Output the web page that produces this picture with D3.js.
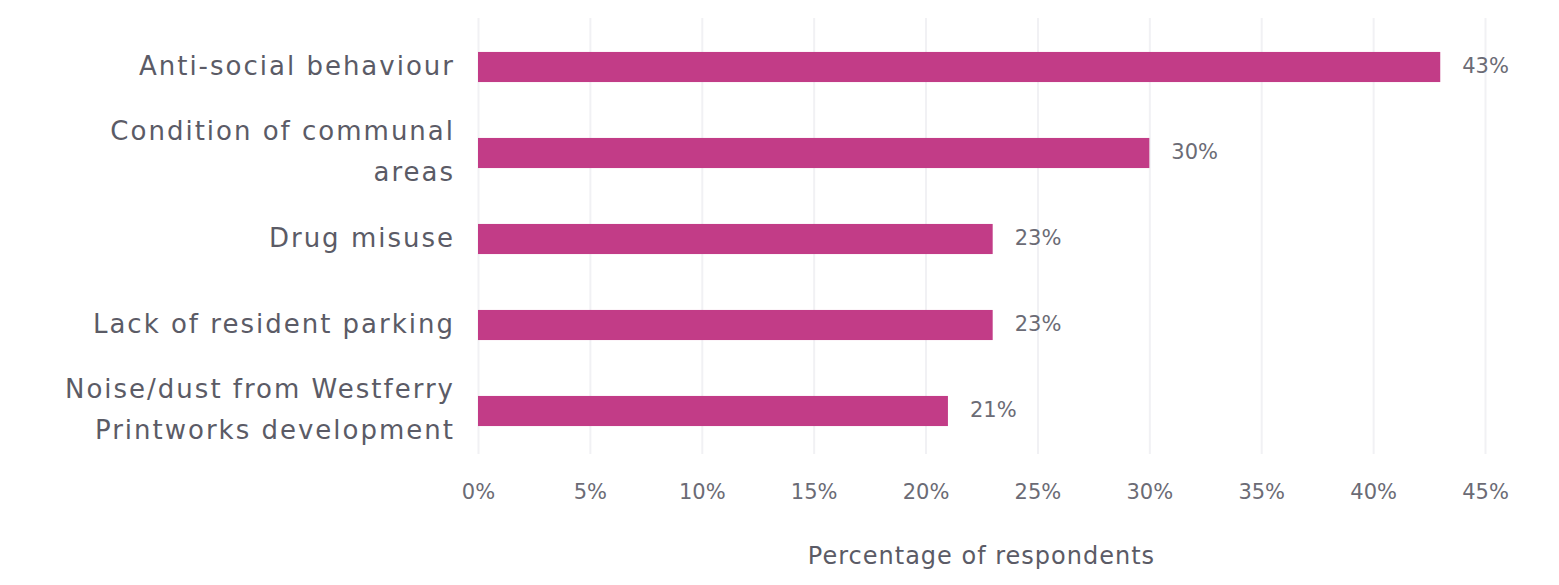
<!DOCTYPE html>
<html>
<head>
<meta charset="utf-8">
<script src="https://cdn.jsdelivr.net/npm/d3@7/dist/d3.min.js"></script>
<style>
    html, body { margin: 0; padding: 0; background: #ffffff; }
    svg { display: block; font-family: "DejaVu Sans", "Open Sans", sans-serif; }
    .catLabel { fill: #5b5b66; font-size: 26px; letter-spacing: 2px; }
    .valLabel { fill: #6b6b75; font-size: 21px; }
    .xAxis text { fill: #6b6b75; font-size: 21px; }
    .axisTitle { fill: #5b5b66; font-size: 24px; letter-spacing: 1px; }
</style>
</head>
<body>
<script>
var categories = [
    "Anti-social behaviour",
    "Condition of communal areas",
    "Drug misuse",
    "Lack of resident parking",
    "Noise/dust from Westferry Printworks development"
];
var values = [43, 30, 23, 23, 21];
var tickValues = [0, 5, 10, 15, 20, 25, 30, 35, 40, 45];
var axisTitle = "Percentage of respondents";

var width = 1559,
    height = 585,
    margin = { top: 24, right: 74, bottom: 131, left: 478 },
    labelWrap = 410;

var svg = d3.select("body").append("svg")
    .attr("width", width)
    .attr("height", height)
    ;

var x = d3.scaleLinear()
    .domain([0, 45])
    .range([margin.left, width - margin.right])
    ;
var y = d3.scaleBand()
    .domain(categories)
    .range([margin.top, height - margin.bottom])
    .paddingInner(0.65)
    .paddingOuter(0.325)
    ;

//  Grid ---
svg.append("g")
    .attr("class", "grid")
    .attr("transform", "translate(0," + (height - margin.bottom) + ")")
    .call(d3.axisBottom(x).tickValues(tickValues).tickSize(-(height - margin.bottom - 18)).tickFormat(""))
    .call(function (g) {
        g.select(".domain").remove();
        g.selectAll("line").attr("stroke", "#f1f1f4").attr("stroke-width", 2);
    })
    ;

//  X Axis ---
svg.append("g")
    .attr("class", "xAxis")
    .attr("transform", "translate(0," + (height - margin.bottom) + ")")
    .call(d3.axisBottom(x).tickValues(tickValues).tickSize(0).tickPadding(30).tickFormat(function (d) { return d + "%"; }))
    .call(function (g) {
        g.select(".domain").remove();
    })
    ;
svg.select(".xAxis").attr("font-family", null).attr("font-size", null);

svg.append("text")
    .attr("class", "axisTitle")
    .attr("x", (x.range()[0] + x.range()[1]) / 2)
    .attr("y", 557)
    .attr("text-anchor", "middle")
    .attr("dominant-baseline", "middle")
    .text(axisTitle)
    ;

//  Bars ---
var rows = categories.map(function (c, i) { return { cat: c, value: values[i] }; });

svg.append("g").selectAll("rect")
    .data(rows)
    .enter().append("rect")
    .attr("x", x(0))
    .attr("y", function (d) { return y(d.cat); })
    .attr("width", function (d) { return x(d.value) - x(0); })
    .attr("height", y.bandwidth())
    .attr("fill", "#c23c87")
    ;

svg.append("g").selectAll("text")
    .data(rows)
    .enter().append("text")
    .attr("class", "valLabel")
    .attr("x", function (d) { return x(d.value) + 22; })
    .attr("y", function (d) { return y(d.cat) + y.bandwidth() / 2; })
    .attr("dominant-baseline", "middle")
    .text(function (d) { return d.value + "%"; })
    ;

//  Category labels (wrapped) ---
var labels = svg.append("g").selectAll("text")
    .data(rows)
    .enter().append("text")
    .attr("class", "catLabel")
    .attr("text-anchor", "end")
    ;

labels.each(function (d) {
    var text = d3.select(this);
    var words = d.cat.split(" ");
    var lines = [];
    var line = [];
    var probe = text.append("tspan");
    words.forEach(function (w) {
        line.push(w);
        probe.text(line.join(" "));
        if (probe.node().getComputedTextLength() > labelWrap && line.length > 1) {
            line.pop();
            lines.push(line.join(" "));
            line = [w];
        }
    });
    lines.push(line.join(" "));
    probe.remove();

    var lineHeight = 41;
    var cy = y(d.cat) + y.bandwidth() / 2;
    var top = cy - (lines.length - 1) * lineHeight / 2;
    lines.forEach(function (l, i) {
        text.append("tspan")
            .attr("x", 455)
            .attr("y", top + i * lineHeight)
            .attr("dominant-baseline", "middle")
            .text(l)
            ;
    });
});
</script>
</body>
</html>
